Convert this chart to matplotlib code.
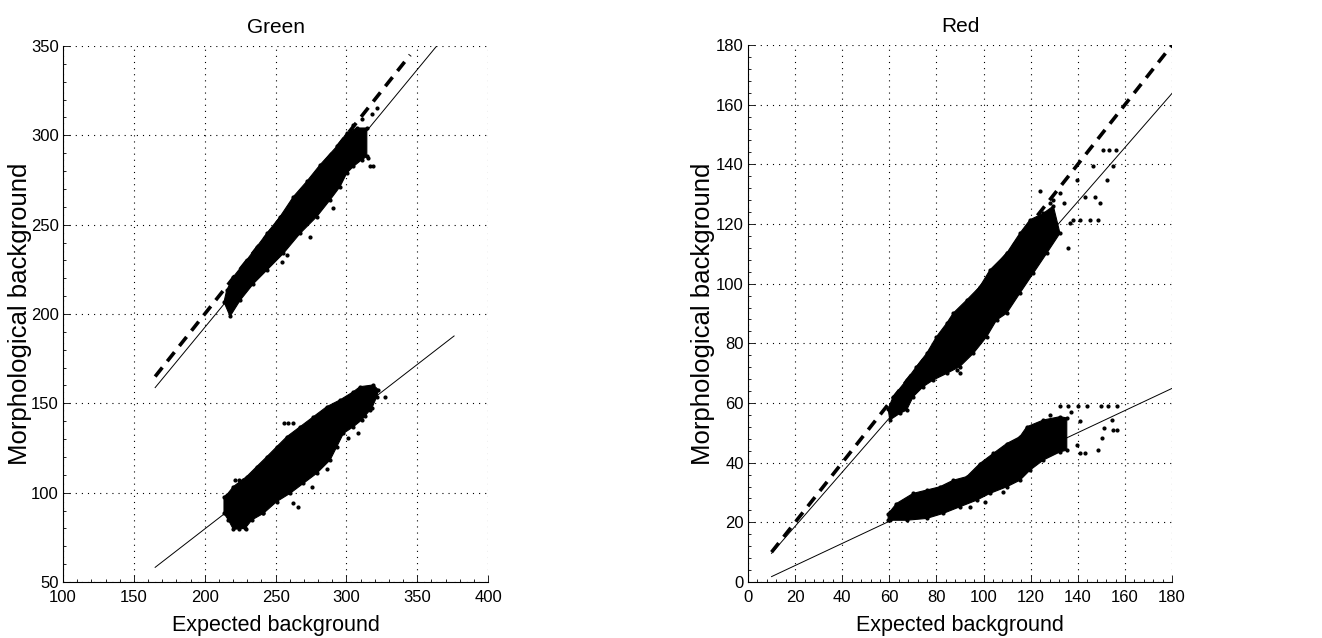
import numpy as np
import matplotlib.pyplot as plt
from matplotlib.ticker import MultipleLocator

plt.rcParams['font.family'] = ['Liberation Sans', 'DejaVu Sans']

# ---- Green channel ----
g_upper_top_x = [213.6, 215.5, 220.2, 229.6, 236.7, 243.8, 253.2, 262.6, 272.0, 281.4, 293.2, 300.2, 307.3, 314.4]
g_upper_top_y = [206.7, 213.3, 220.8, 230.2, 237.6, 245.1, 254.5, 265.7, 274.2, 283.5, 293.8, 301.3, 304.1, 304.1]
g_upper_bot_x = [217.9, 225.0, 234.4, 243.8, 255.5, 267.3, 279.1, 288.5, 295.5, 300.2, 304.9, 310.8, 314.4]
g_upper_bot_y = [198.7, 207.7, 217.0, 224.5, 233.9, 245.1, 254.5, 263.9, 271.3, 278.8, 282.6, 286.3, 288.2]
g_upper_out_x = [321.4, 318.0, 316.7, 319.1, 290.8, 274.4, 257.9, 254.4, 315.5, 311.0, 305.0, 226.0, 241.0]
g_upper_out_y = [315.4, 312.0, 282.6, 282.6, 259.2, 243.3, 233.0, 229.2, 287.3, 309.0, 306.0, 224.0, 241.0]

g_lower_top_x = [213.6, 215.5, 220.2, 229.6, 236.7, 243.8, 250.8, 257.9, 267.3, 276.7, 286.1, 295.5, 304.9, 309.6, 319.0, 322.6, 321.4, 317.9]
g_lower_top_y = [97.8, 98.7, 103.4, 109.0, 114.6, 120.1, 125.7, 131.3, 136.9, 142.5, 148.1, 151.9, 156.5, 159.3, 160.3, 157.5, 153.7, 147.2]
g_lower_bot_x = [213.6, 216.7, 220.2, 228.5, 233.2, 241.4, 250.8, 260.2, 269.6, 279.0, 288.5, 293.2, 297.9, 304.9, 310.8, 316.7]
g_lower_bot_y = [88.4, 84.7, 79.5, 80.0, 84.7, 88.4, 95.0, 99.6, 105.2, 110.8, 118.3, 125.7, 133.2, 136.9, 140.7, 146.3]
g_lower_out_x = [327.3, 256.0, 259.0, 262.6, 221.4, 224.0, 227.0, 230.0, 262.6, 266.0, 241.4, 224.0, 229.0, 308.5, 301.4, 313.0, 286.0, 276.0]
g_lower_out_y = [153.7, 138.8, 138.8, 138.8, 107.1, 107.1, 107.1, 107.1, 94.1, 92.0, 88.8, 79.5, 79.5, 133.2, 130.4, 143.0, 113.0, 103.0]

# fitted lines and identity line (green)
g_fit_x = [165, 376]
g_fit_upper_y = [158.8, 361.8]
g_fit_lower_y = [58.2, 187.7]
g_diag = [165, 345]

# ---- Red channel ----
r_upper_top_x = [59.5, 61.6, 67.3, 71.5, 75.8, 80.0, 84.3, 87.1, 92.8, 98.4, 102.7, 109.8, 115.4, 119.7, 125.4, 129.6]
r_upper_top_y = [58.0, 62.1, 67.7, 72.2, 76.6, 82.2, 86.7, 90.1, 94.5, 99.0, 104.6, 110.2, 116.9, 121.4, 123.6, 126.0]
r_upper_bot_x = [60.2, 64.4, 67.3, 70.1, 74.4, 78.6, 84.3, 89.9, 95.6, 101.3, 105.5, 109.8, 115.4, 121.1, 126.8, 132.4]
r_upper_bot_y = [54.3, 56.5, 57.6, 62.1, 65.5, 67.7, 69.9, 72.2, 76.6, 82.2, 87.8, 90.1, 96.8, 103.5, 110.2, 116.9]
r_upper_out_x = [88.5, 90.0, 136.0, 145.2, 148.7, 149.4, 155.1, 152.3, 150.8, 153.3, 156.1, 143.1, 147.3, 139.5, 146.6, 132.4, 129.6, 134.0, 138.0, 141.0, 136.7, 124.0, 128.0]
r_upper_out_y = [71.1, 70.0, 111.9, 121.4, 121.4, 127.0, 139.3, 134.8, 144.9, 144.9, 144.9, 129.2, 129.2, 134.8, 139.3, 130.3, 128.1, 127.0, 121.4, 121.4, 120.3, 131.0, 127.0]

r_lower_top_x = [59.5, 60.2, 63.0, 70.1, 75.8, 81.4, 87.1, 92.8, 98.4, 104.1, 109.8, 115.4, 118.3, 125.4, 132.4, 135.3]
r_lower_top_y = [22.9, 23.5, 26.3, 29.7, 30.8, 31.9, 34.1, 35.3, 39.7, 43.1, 46.4, 48.7, 52.0, 54.3, 55.4, 55.0]
r_lower_bot_x = [59.5, 60.2, 67.3, 75.8, 82.9, 89.9, 97.0, 102.7, 109.8, 115.4, 119.7, 125.4, 132.4, 135.3]
r_lower_bot_y = [20.7, 20.7, 20.7, 21.3, 23.0, 25.2, 27.4, 29.7, 31.9, 34.1, 37.5, 40.9, 43.6, 44.2]
r_lower_out_x = [132.4, 136.0, 140.0, 144.0, 150.0, 153.0, 156.5, 140.9, 143.1, 148.7, 150.1, 151.0, 155.1, 156.5, 154.4, 139.5, 100.8, 94.2, 108.4, 137.0, 141.0, 128.0]
r_lower_out_y = [59.1, 59.1, 59.1, 59.1, 59.1, 59.1, 59.1, 43.1, 43.1, 44.2, 48.1, 51.5, 51.1, 51.1, 54.3, 45.9, 26.9, 25.2, 30.2, 57.0, 54.0, 56.0]

r_fit_x = [10, 180]
r_fit_upper_y = [9.6, 163.8]
r_fit_lower_y = [1.8, 64.9]
r_diag = [10, 180]


def draw_cloud(ax, top_x, top_y, bot_x, bot_y, out_x, out_y):
    # dense core as a filled outline, edge and stray points as dots
    px = list(top_x) + list(bot_x[::-1])
    py = list(top_y) + list(bot_y[::-1])
    ax.fill(px, py, color='black', lw=0.8, zorder=2)
    ax.plot(top_x + bot_x, top_y + bot_y, '.', color='black', ms=4, zorder=2)
    ax.plot(out_x, out_y, '.', color='black', ms=4, zorder=2)


def style_axes(ax, xlim, ylim, xstep, ystep, xminor, yminor, ylabelpad):
    ax.set_xlim(*xlim)
    ax.set_ylim(*ylim)
    ax.xaxis.set_major_locator(MultipleLocator(xstep))
    ax.yaxis.set_major_locator(MultipleLocator(ystep))
    ax.xaxis.set_minor_locator(MultipleLocator(xminor))
    ax.yaxis.set_minor_locator(MultipleLocator(yminor))
    ax.spines['top'].set_visible(False)
    ax.spines['right'].set_visible(False)
    ax.tick_params(which='both', direction='in', labelsize=12, width=0.6)
    ax.tick_params(axis='x', which='major', pad=6)
    ax.tick_params(axis='y', which='major', pad=3)
    ax.tick_params(which='major', length=5)
    ax.tick_params(which='minor', length=2.5)
    ax.grid(True, which='major', color='black', linestyle=(0, (1, 4.5)), linewidth=0.8)
    ax.set_axisbelow(True)
    ax.set_xlabel('Expected background', fontsize=15.5, labelpad=7)
    ax.set_ylabel('Morphological background', fontsize=18.5, labelpad=ylabelpad)


fig = plt.figure(figsize=(13.22, 6.38), dpi=100)
ax1 = fig.add_axes([0.0477, 0.0878, 0.3215, 0.8401])
ax2 = fig.add_axes([0.5658, 0.0878, 0.3208, 0.8417])

# Green
draw_cloud(ax1, g_upper_top_x, g_upper_top_y, g_upper_bot_x, g_upper_bot_y, g_upper_out_x, g_upper_out_y)
draw_cloud(ax1, g_lower_top_x, g_lower_top_y, g_lower_bot_x, g_lower_bot_y, g_lower_out_x, g_lower_out_y)
ax1.plot(g_fit_x, g_fit_upper_y, color='black', lw=0.7, zorder=3)
ax1.plot(g_fit_x, g_fit_lower_y, color='black', lw=0.7, zorder=3)
ax1.plot(g_diag, g_diag, color='black', lw=2.6, linestyle=(0, (3.2, 2.2)), zorder=3)
style_axes(ax1, (100, 400), (50, 350), 50, 50, 10, 10, -1)
ax1.set_title('Green', fontsize=15, pad=9)

# Red
draw_cloud(ax2, r_upper_top_x, r_upper_top_y, r_upper_bot_x, r_upper_bot_y, r_upper_out_x, r_upper_out_y)
draw_cloud(ax2, r_lower_top_x, r_lower_top_y, r_lower_bot_x, r_lower_bot_y, r_lower_out_x, r_lower_out_y)
ax2.plot(r_fit_x, r_fit_upper_y, color='black', lw=0.7, zorder=3)
ax2.plot(r_fit_x, r_fit_lower_y, color='black', lw=0.7, zorder=3)
ax2.plot(r_diag, r_diag, color='black', lw=2.6, linestyle=(0, (3.2, 2.2)), zorder=3)
style_axes(ax2, (0, 180), (0, 180), 20, 20, 4, 4, 1)
ax2.set_title('Red', fontsize=15, pad=9)

fig.savefig('out.png', dpi=100)
